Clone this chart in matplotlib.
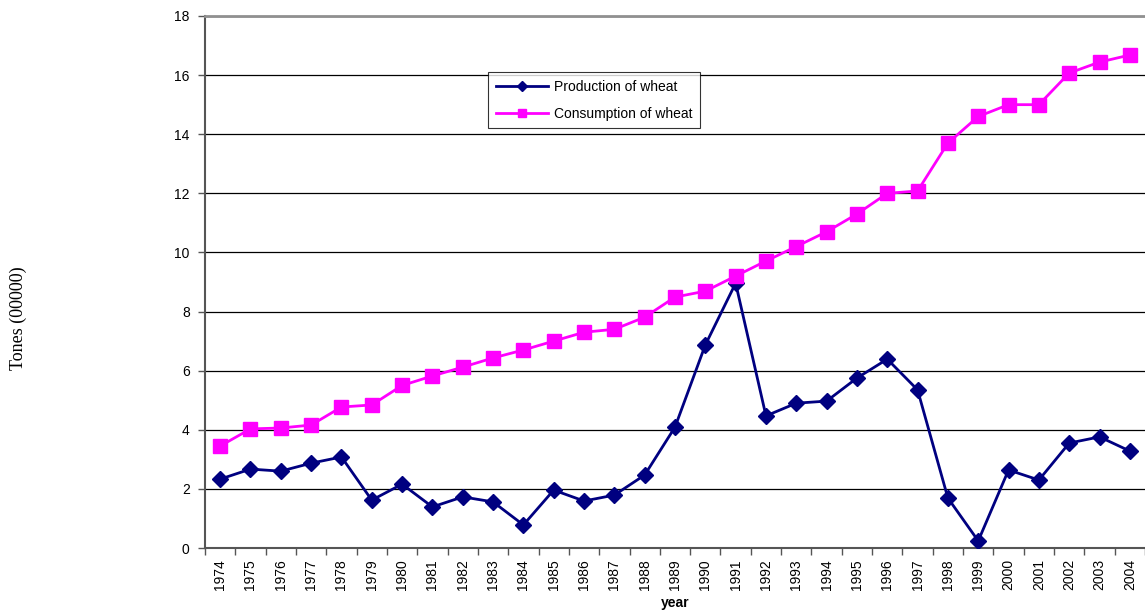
import numpy as np
import matplotlib
matplotlib.use("Agg")
import matplotlib.pyplot as plt

years = [str(y) for y in range(1974, 2005)]

production = [2.33, 2.67, 2.60, 2.87, 3.08, 1.62, 2.16, 1.39, 1.73, 1.56,
              0.78, 1.96, 1.59, 1.79, 2.47, 4.09, 6.87, 8.96, 4.47, 4.90,
              4.97, 5.75, 6.39, 5.35, 1.69, 0.24, 2.64, 2.30, 3.55, 3.76, 3.28]

consumption = [3.45, 4.03, 4.06, 4.16, 4.77, 4.84, 5.50, 5.82, 6.12, 6.43,
               6.70, 7.00, 7.30, 7.40, 7.81, 8.49, 8.69, 9.20, 9.71, 10.20,
               10.70, 11.30, 12.00, 12.08, 13.70, 14.60, 15.00, 15.00, 16.07, 16.44, 16.68]

yticks = list(range(0, 19, 2))

plt.rcParams['font.family'] = ['Liberation Sans', 'DejaVu Sans']

fig = plt.figure(figsize=(11.45, 6.14), dpi=100)
ax = fig.add_axes([205/1145, 66/614, 1 - 205/1145, (548-16)/614])

x = np.arange(len(years))
ax.plot(x, production, color='#000080', lw=2, marker='D', ms=8,
        label='Production of wheat', zorder=3)
ax.plot(x, consumption, color='#FF00FF', lw=2, marker='s', ms=10,
        label='Consumption of wheat', zorder=3)

ax.set_xlim(-0.5, 30.1)
ax.set_ylim(0, 18)
ax.set_yticks(yticks)
ax.yaxis.grid(True, color='black', lw=0.9)
ax.set_axisbelow(True)

# category axis: labels at centres, tick marks between categories
ax.set_xticks(x)
ax.set_xticklabels(years, rotation=90, fontsize=10)
ax.set_xticks(np.arange(-0.5, 30.6, 1), minor=True)
ax.tick_params(axis='x', which='major', length=0, pad=8)
ax.tick_params(axis='x', which='minor', length=5, width=1, color='#555555')
ax.tick_params(axis='y', length=5, width=1, color='#555555', labelsize=10, pad=6)

for s in ['left', 'bottom']:
    ax.spines[s].set_color('#555555')
    ax.spines[s].set_linewidth(1.5)
ax.spines['top'].set_color('#909090')
ax.spines['top'].set_linewidth(2)
ax.spines['right'].set_visible(False)

ax.set_xlabel('year', fontsize=10, fontweight='bold', labelpad=4)
fig.text(18/1145, 1 - 318/614, 'Tones (00000)', rotation=90, fontsize=13,
         family='Liberation Serif', ha='center', va='center')

leg = ax.legend(loc='upper left', bbox_to_anchor=((488-205)/940, (548-72)/532),
                fontsize=10, frameon=True, fancybox=False, edgecolor='black',
                markerscale=0.6, handlelength=3.8, handletextpad=0.4,
                borderpad=0.55, labelspacing=0.95, borderaxespad=0)
leg.get_frame().set_linewidth(0.8)

fig.savefig('out.png', dpi=100)
